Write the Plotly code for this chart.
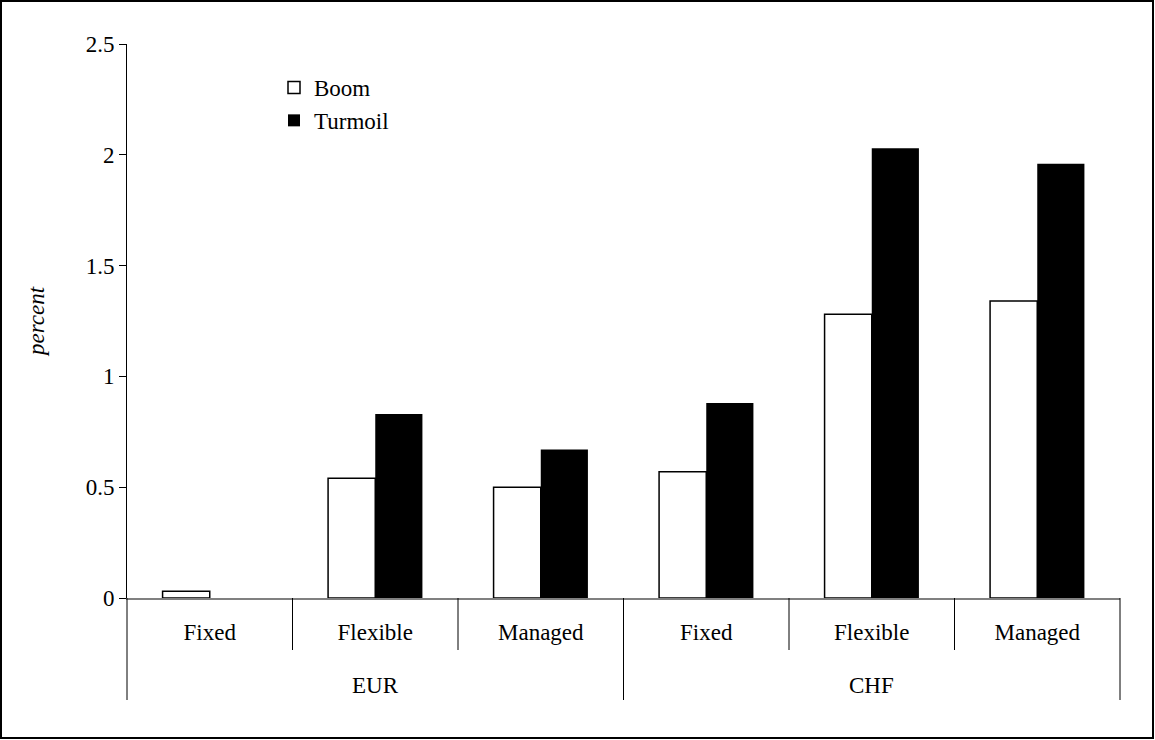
import plotly.graph_objects as go

groups = ["EUR", "EUR", "EUR", "CHF", "CHF", "CHF"]
regimes = ["Fixed", "Flexible", "Managed", "Fixed", "Flexible", "Managed"]
boom = [0.03, 0.54, 0.50, 0.57, 1.28, 1.34]
turmoil = [0.0, 0.83, 0.67, 0.88, 2.03, 1.96]
y_ticks = [0, 0.5, 1, 1.5, 2, 2.5]
y_labels = ["0", "0.5", "1", "1.5", "2", "2.5"]
group_names = ["EUR", "CHF"]

FONT = "Liberation Serif"
FS = 23

cats = [f"{g} {r}" for g, r in zip(groups, regimes)]

fig = go.Figure()
fig.add_trace(go.Bar(x=cats, y=boom, name="Boom",
                     marker=dict(color="white", line=dict(color="black", width=1.5))))
fig.add_trace(go.Bar(x=cats, y=turmoil, name="Turmoil",
                     marker=dict(color="black", line=dict(color="black", width=0))))

L, R, T, B = 127, 35, 44, 142
W, H = 1155, 740
pw, ph = W - L - R, H - T - B
n = len(cats)

shapes = []
# inner boundaries
for i in range(1, n):
    if i == n // 2:
        continue
    shapes.append(dict(type="line", xref="paper", yref="paper", x0=i / n, x1=i / n,
                       y0=0, y1=-52 / ph, line=dict(color="black", width=1)))
# outer dividers
for i in (0, n // 2, n):
    shapes.append(dict(type="line", xref="paper", yref="paper", x0=i / n, x1=i / n,
                       y0=0, y1=-102 / ph, line=dict(color="black", width=1)))
# outer frame
shapes.append(dict(type="rect", xref="paper", yref="paper",
                   x0=(1 - L) / pw, x1=(W - 2 - L) / pw,
                   y0=(598 - (H - 2)) / ph, y1=(598 - 1) / ph,
                   line=dict(color="black", width=2), fillcolor="rgba(0,0,0,0)",
                   layer="below"))

annotations = []
for k, g in enumerate(group_names):
    annotations.append(dict(text=g, xref="paper", yref="paper", x=(k + 0.5) / 2,
                            y=(598 - 685) / ph, showarrow=False, xanchor="center",
                            yanchor="middle",
                            font=dict(family=FONT, size=FS, color="black")))

fig.update_layout(
    width=W, height=H,
    margin=dict(l=L, r=R, t=T, b=B),
    paper_bgcolor="white", plot_bgcolor="white",
    barmode="group", bargap=0.43, bargroupgap=0,
    font=dict(family=FONT, size=FS, color="black"),
    showlegend=True,
    legend=dict(x=(274 - L) / pw, y=(598 - 66) / ph, xanchor="left", yanchor="top",
                bgcolor="rgba(0,0,0,0)", font=dict(family=FONT, size=FS), itemwidth=30,
                tracegroupgap=0),
    xaxis=dict(type="category", categoryorder="array", categoryarray=cats,
               tickvals=cats, ticktext=regimes,
               showline=True, linecolor="#808080", linewidth=2,
               ticks="", ticklabelstandoff=12,
               showgrid=False, zeroline=False,
               tickfont=dict(family=FONT, size=FS, color="black")),
    yaxis=dict(range=[0, 2.5], tickvals=y_ticks, ticktext=y_labels, showline=True,
               linecolor="black", linewidth=1, ticks="outside", ticklen=7,
               tickcolor="black", showgrid=False, zeroline=False,
               tickfont=dict(family=FONT, size=FS, color="black"),
               title=dict(text="<i>percent</i>", standoff=34,
                          font=dict(family=FONT, size=FS, color="black"))),
    shapes=shapes,
    annotations=annotations,
)

fig.write_html("out.html", config={"displayModeBar": False},
               post_script="document.body.style.margin='0';document.body.style.overflow='hidden';")
